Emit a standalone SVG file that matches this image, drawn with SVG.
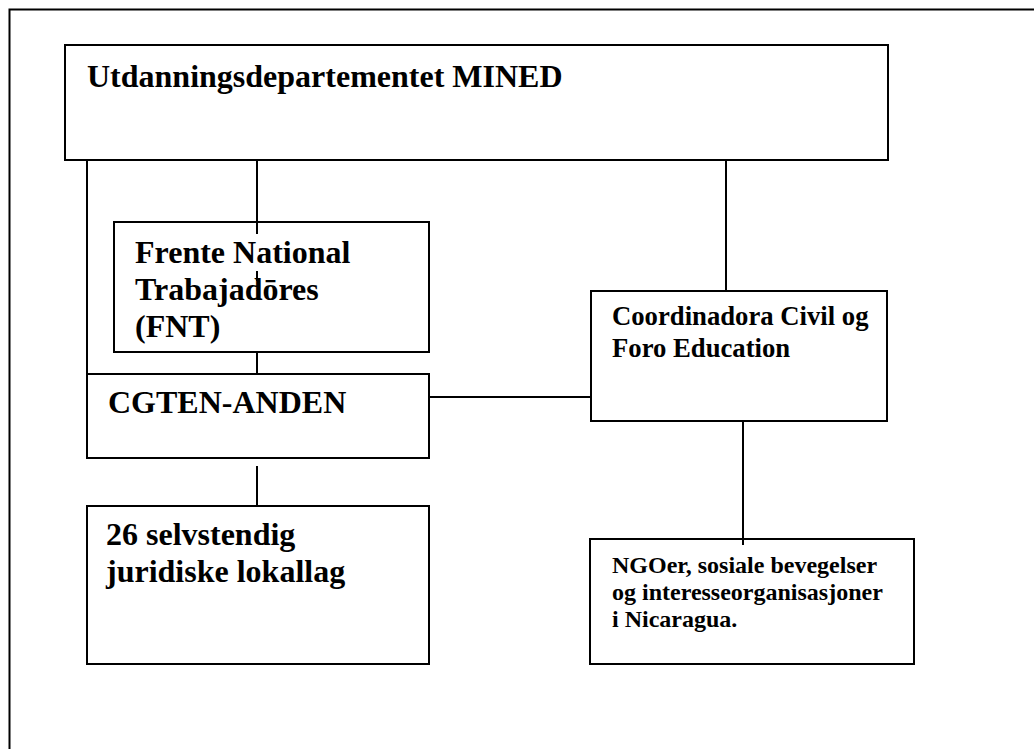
<svg xmlns="http://www.w3.org/2000/svg" width="1034" height="749" viewBox="0 0 1034 749">
<style>
.box{fill:#fff;stroke:#000;stroke-width:2}
.ln{stroke:#000;stroke-width:2;fill:none}
.t{font-family:"Liberation Serif","Times New Roman",serif;font-weight:bold;fill:#000}
.l{font-size:32px}
.m{font-size:26.7px}
.s{font-size:24px}
</style>
<rect x="0" y="0" width="1034" height="749" fill="#fff"/>
<path class="ln" d="M9.5,749 V9.5 H1034"/>
<g id="mined">
<rect class="box" x="65" y="45" width="823" height="115"/>
<text class="t l" x="87" y="87">Utdanningsdepartementet MINED</text>
</g>
<g id="fnt">
<rect class="box" x="114" y="222" width="315" height="130"/>
<text class="t l"><tspan x="135" y="263">Frente National</tspan><tspan x="135" y="300">Trabajadōres</tspan><tspan x="135" y="337">(FNT)</tspan></text>
</g>
<g id="cgten">
<rect class="box" x="87" y="374" width="342" height="84"/>
<text class="t l" x="108" y="413">CGTEN-ANDEN</text>
</g>
<g id="lokallag">
<rect class="box" x="87" y="506" width="342" height="158"/>
<text class="t l"><tspan x="106" y="545">26 selvstendig</tspan><tspan x="106" y="582">juridiske lokallag</tspan></text>
</g>
<g id="coordinadora">
<rect class="box" x="591" y="291" width="296" height="130"/>
<text class="t m"><tspan x="612" y="325">Coordinadora Civil og</tspan><tspan x="612" y="357">Foro Education</tspan></text>
</g>
<g id="ngo">
<rect class="box" x="590" y="539" width="324" height="125"/>
<text class="t s"><tspan x="612" y="573">NGOer, sosiale bevegelser</tspan><tspan x="612" y="600">og interesseorganisasjoner</tspan><tspan x="612" y="627">i Nicaragua.</tspan></text>
</g>
<g id="connectors">
<path class="ln" d="M257,160 V234"/>
<path class="ln" d="M257,271 V281"/>
<path class="ln" d="M257,352 V374"/>
<path class="ln" d="M87,160 V374"/>
<path class="ln" d="M429,397 H591"/>
<path class="ln" d="M726,160 V291"/>
<path class="ln" d="M743,421 V545"/>
<path class="ln" d="M257,466 V506"/>
</g>
</svg>
